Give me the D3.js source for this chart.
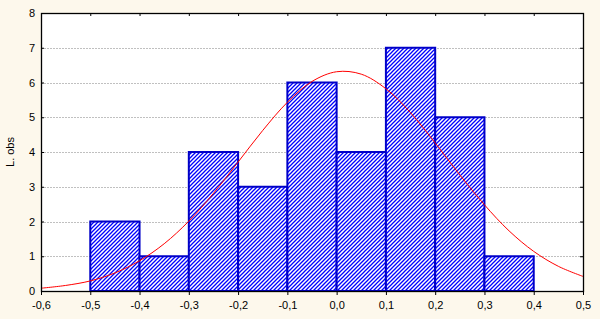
<!DOCTYPE html>
<html>
<head>
<meta charset="utf-8">
<script src="https://cdn.jsdelivr.net/npm/d3@7"></script>
<style>
body { margin: 0; background: #fdf8ec; }
svg { display: block; }
text { font-family: Arial, "Liberation Sans", sans-serif; font-size: 11px; fill: #000; }
</style>
</head>
<body>
<div id="chart"></div>
<script>
// histogram bins (lower edge, upper edge) and counts
var binStarts = [-0.5, -0.4, -0.3, -0.2, -0.1, 0.0, 0.1, 0.2, 0.3];
var binEnds = [-0.4, -0.3, -0.2, -0.1, 0.0, 0.1, 0.2, 0.3, 0.4];
var counts = [2, 1, 4, 3, 6, 4, 7, 5, 1];

// expected normal curve
var curveX = [-0.6, -0.55, -0.5, -0.45, -0.4, -0.35, -0.3, -0.25, -0.2, -0.15, -0.1, -0.05, 0, 0.05, 0.1, 0.15, 0.2, 0.25, 0.3, 0.35, 0.4, 0.45, 0.5];
var curveY = [0.08, 0.16, 0.29, 0.52, 0.87, 1.36, 2.01, 2.81, 3.71, 4.62, 5.43, 6.03, 6.31, 6.24, 5.82, 5.13, 4.26, 3.34, 2.48, 1.73, 1.14, 0.71, 0.42];

var xTicks = [-0.6, -0.5, -0.4, -0.3, -0.2, -0.1, 0, 0.1, 0.2, 0.3, 0.4, 0.5];
var yTicks = [0, 1, 2, 3, 4, 5, 6, 7, 8];

var width = 600, height = 319;
var m = {left: 41, right: 17, top: 13, bottom: 28};

var svg = d3.select('#chart').append('svg').attr('width', width).attr('height', height);

var x = d3.scaleLinear().domain([-0.6, 0.5]).range([m.left, width - m.right]);
var y = d3.scaleLinear().domain([0, 8]).range([height - m.bottom, m.top]);

var pat = svg.append('defs').append('pattern').attr('id', 'hatch')
    .attr('patternUnits', 'userSpaceOnUse').attr('width', 4).attr('height', 4);
pat.append('rect').attr('width', 4).attr('height', 4).attr('fill', '#fff');
pat.append('path').attr('d', 'M-1,1 L1,-1 M0,4 L4,0 M3,5 L5,3')
    .attr('stroke', '#0000ff').attr('stroke-width', 1.3);

svg.append('rect').attr('x', m.left).attr('y', m.top)
    .attr('width', x.range()[1] - m.left).attr('height', y.range()[0] - m.top).attr('fill', '#fff');

// grid
svg.append('g').selectAll('line').data(yTicks.slice(1, -1)).enter().append('line')
    .attr('x1', m.left).attr('x2', x.range()[1])
    .attr('y1', d => Math.round(y(d)) + 0.5).attr('y2', d => Math.round(y(d)) + 0.5)
    .attr('stroke', '#c0c0c0').attr('stroke-dasharray', '2,1');

// bars
svg.append('g').selectAll('rect').data(counts).enter().append('rect')
    .attr('x', (d, i) => x(binStarts[i]))
    .attr('y', d => y(d))
    .attr('width', (d, i) => x(binEnds[i]) - x(binStarts[i]))
    .attr('height', d => y(0) - y(d))
    .attr('fill', 'url(#hatch)').attr('stroke', '#0000c8').attr('stroke-width', 2);

// normal curve
var line = d3.line().x(d => x(d[0])).y(d => y(d[1])).curve(d3.curveCatmullRom);
svg.append('path').datum(curveX.map((v, i) => [v, curveY[i]]))
    .attr('d', line).attr('fill', 'none').attr('stroke', '#ff0000').attr('stroke-width', 1);

// frame
svg.append('rect').attr('x', m.left + 0.5).attr('y', m.top + 0.5)
    .attr('width', x.range()[1] - m.left).attr('height', y.range()[0] - m.top)
    .attr('fill', 'none').attr('stroke', '#000').attr('stroke-width', 1.3);

var yAx = svg.append('g').attr('transform', `translate(${m.left},0)`)
    .call(d3.axisLeft(y).tickValues(yTicks).tickSize(-3).tickPadding(13).tickFormat(d3.format('d')));
var yAxR = svg.append('g').attr('transform', `translate(${x.range()[1]},0)`)
    .call(d3.axisRight(y).tickValues(yTicks).tickSize(-3).tickFormat(''));
var xAx = svg.append('g').attr('transform', `translate(0,${y(0)})`)
    .call(d3.axisBottom(x).tickValues(xTicks).tickSize(4).tickPadding(6)
        .tickFormat(d => d3.format('.1f')(d).replace('.', ',').replace('−', '-')));
var xAxT = svg.append('g').attr('transform', `translate(0,${m.top})`)
    .call(d3.axisTop(x).tickValues(xTicks).tickSize(-3).tickFormat(''));

[yAx, yAxR, xAx, xAxT].forEach(g => {
    g.select('.domain').remove();
    g.selectAll('text').attr('font-family', 'Arial, "Liberation Sans", sans-serif').attr('font-size', 11);
    g.selectAll('line').attr('stroke', '#000');
});
yAx.selectAll('text').attr('text-anchor', 'middle').attr('dx', 4);

svg.append('text').attr('transform', `translate(14,${y(4)})rotate(-90)`)
    .attr('text-anchor', 'middle').text('L. obs');
</script>
</body>
</html>
